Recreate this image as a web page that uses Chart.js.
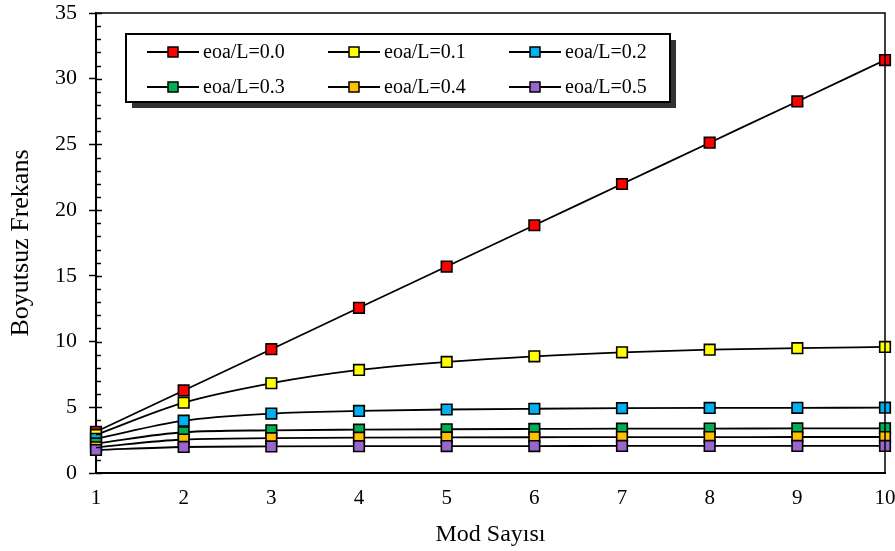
<!DOCTYPE html>
<html>
<head>
<meta charset="utf-8">
<script src="https://cdn.jsdelivr.net/npm/chart.js@4"></script>
<style>
  body { margin: 0; background: #fff; }
  #wrap { width: 895px; height: 551px; }
</style>
</head>
<body>
<div id="wrap"><canvas id="freqChart" width="895" height="551"></canvas></div>
<script>
// mode numbers on the x axis
const modes = [1, 2, 3, 4, 5, 6, 7, 8, 9, 10];

// one list per eoa/L ratio
const r00 = [3.14, 6.28, 9.42, 12.57, 15.71, 18.85, 21.99, 25.13, 28.27, 31.42];
const r01 = [2.90, 5.35, 6.83, 7.84, 8.45, 8.88, 9.18, 9.38, 9.50, 9.59];
const r02 = [2.60, 3.98, 4.52, 4.72, 4.83, 4.89, 4.93, 4.95, 4.96, 4.97];
const r03 = [2.25, 3.10, 3.25, 3.30, 3.33, 3.35, 3.37, 3.38, 3.39, 3.40];
const r04 = [1.95, 2.55, 2.65, 2.69, 2.71, 2.72, 2.73, 2.73, 2.74, 2.74];
const r05 = [1.75, 1.98, 2.02, 2.04, 2.05, 2.05, 2.06, 2.06, 2.06, 2.06];

const seriesNames = ['eoa/L=0.0', 'eoa/L=0.1', 'eoa/L=0.2', 'eoa/L=0.3', 'eoa/L=0.4', 'eoa/L=0.5'];
const seriesValues = [r00, r01, r02, r03, r04, r05];
const markerColors = ['#FF0000', '#FFFF00', '#00B0F0', '#00B050', '#FFC000', '#9966CC'];

const yTicks = [0, 5, 10, 15, 20, 25, 30, 35];

const FONT = "'Liberation Serif', 'Times New Roman', serif";

const datasets = seriesValues.map((vals, i) => ({
    label: seriesNames[i],
    data: vals.map((v, j) => ({ x: modes[j], y: v })),
    borderColor: '#000',
    borderWidth: 1.8,
    pointStyle: 'rect',
    pointRadius: 7.5,
    pointHoverRadius: 7.5,
    pointBackgroundColor: markerColors[i],
    pointBorderColor: '#000',
    pointBorderWidth: 1.6,
    cubicInterpolationMode: 'monotone',
    clip: false,
    order: seriesValues.length - i   // last series drawn on top
}));

// minor ticks, inner part of major ticks and the frame on top / right
const framePlugin = {
    id: 'frame',
    afterDraw(chart) {
        const ctx = chart.ctx;
        const a = chart.chartArea;
        const y = chart.scales.y;
        ctx.save();
        ctx.strokeStyle = '#000';
        ctx.lineWidth = 1.5;
        for (let v = 0; v <= 35; v++) {
            const py = Math.round(y.getPixelForValue(v)) + 0.5;
            const len = (v % 5 === 0) ? 6 : 5;
            ctx.beginPath();
            ctx.moveTo(a.left, py);
            ctx.lineTo(a.left + len, py);
            ctx.stroke();
        }
        ctx.beginPath();
        ctx.moveTo(a.left, a.top);
        ctx.lineTo(a.right, a.top);
        ctx.lineTo(a.right, a.bottom);
        ctx.stroke();
        ctx.restore();
    }
};

// boxed legend with shadow, line + marker samples, 3 columns x 2 rows
const legendPlugin = {
    id: 'boxLegend',
    afterDatasetsDraw(chart) {
        const ctx = chart.ctx;
        const bx = 126, by = 34, bw = 544, bh = 68;
        ctx.save();
        ctx.fillStyle = '#333';
        ctx.fillRect(bx + 6, by + 6, bw, bh);
        ctx.fillStyle = '#fff';
        ctx.fillRect(bx, by, bw, bh);
        ctx.strokeStyle = '#000';
        ctx.lineWidth = 2;
        ctx.strokeRect(bx, by, bw, bh);

        const colX = [147, 328, 509];
        const rowY = [52, 87];
        chart.data.datasets.forEach((ds, i) => {
            const x0 = colX[i % 3];
            const yy = rowY[Math.floor(i / 3)];
            ctx.strokeStyle = '#000';
            ctx.lineWidth = 1.8;
            ctx.beginPath();
            ctx.moveTo(x0, yy);
            ctx.lineTo(x0 + 52, yy);
            ctx.stroke();
            ctx.fillStyle = ds.pointBackgroundColor;
            ctx.fillRect(x0 + 21, yy - 5, 10, 10);
            ctx.lineWidth = 1.5;
            ctx.strokeRect(x0 + 21, yy - 5, 10, 10);
            ctx.fillStyle = '#000';
            ctx.font = '20px ' + FONT;
            ctx.textBaseline = 'middle';
            ctx.textAlign = 'left';
            ctx.fillText(ds.label, x0 + 56, yy + 1);
        });
        ctx.restore();
    }
};

const ctx = document.getElementById('freqChart').getContext('2d');
new Chart(ctx, {
    type: 'line',
    data: { datasets: datasets },
    options: {
        responsive: false,
        animation: false,
        layout: { padding: { left: 0, top: 13, right: 10, bottom: 0 } },
        plugins: {
            legend: { display: false },
            tooltip: { enabled: false }
        },
        scales: {
            x: {
                type: 'linear',
                min: 1,
                max: 10,
                afterFit(s) {
                    s.height = 78;
                    s.paddingLeft = 0;
                    s.paddingRight = 0;
                },
                ticks: {
                    stepSize: 1,
                    padding: 13,
                    color: '#000',
                    font: { family: FONT, size: 21 }
                },
                grid: { display: true, drawOnChartArea: false, drawTicks: false, color: 'transparent' },
                border: { display: true, color: '#000', width: 2 },
                title: {
                    display: true,
                    text: 'Mod Sayısı',
                    color: '#000',
                    font: { family: FONT, size: 24 },
                    padding: { top: 0, bottom: 2 }
                }
            },
            y: {
                type: 'linear',
                min: 0,
                max: 35,
                afterFit(s) {
                    s.width = 96;
                    s.paddingTop = 0;
                    s.paddingBottom = 0;
                },
                afterBuildTicks(s) { s.ticks = yTicks.map(v => ({ value: v })); },
                ticks: {
                    padding: 12,
                    color: '#000',
                    font: { family: FONT, size: 22 }
                },
                grid: { display: true, drawOnChartArea: false, drawTicks: true, tickLength: 7, color: '#000', tickWidth: 1.5 },
                border: { display: true, color: '#000', width: 2 },
                title: {
                    display: true,
                    text: 'Boyutsuz Frekans',
                    color: '#000',
                    font: { family: FONT, size: 26 },
                    padding: { top: 6, bottom: 0 }
                }
            }
        }
    },
    plugins: [framePlugin, legendPlugin]
});
</script>
</body>
</html>
